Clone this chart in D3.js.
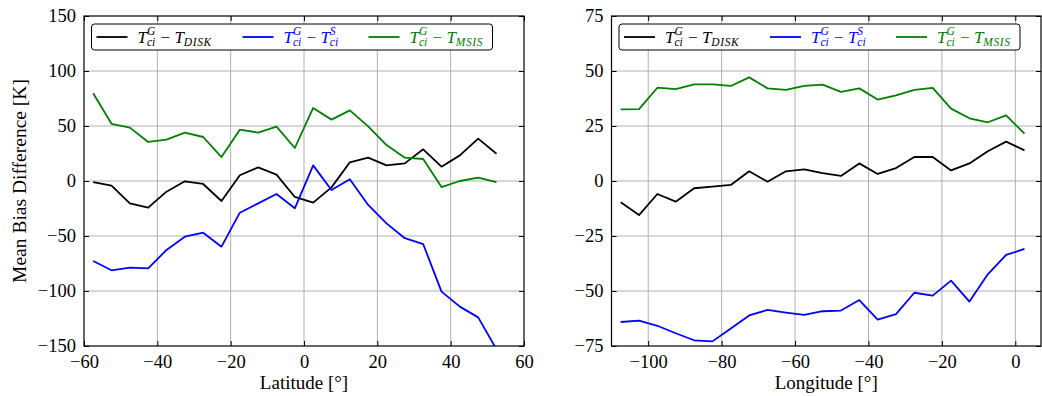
<!DOCTYPE html>
<html><head><meta charset="utf-8">
<script src="https://cdn.jsdelivr.net/npm/d3@7"></script>
<style>body{margin:0;background:#fff}svg{display:block}text{font-family:"Liberation Serif","DejaVu Serif",serif}</style>
</head><body>
<svg id="c" width="1042" height="396"></svg>
<script>
// ---------- data ----------
const latitude = [-57.5,-52.5,-47.5,-42.5,-37.5,-32.5,-27.5,-22.5,-17.5,-12.5,-7.5,-2.5,2.5,7.5,12.5,17.5,22.5,27.5,32.5,37.5,42.5,47.5,52.5];
const latDisk = [-1,-4.2,-20.3,-24.2,-9.7,-0.3,-2.7,-18.2,5.2,12.4,5.8,-14.5,-19.7,-5.8,17,21.2,14.2,16,28.8,13,23.3,38.5,24.8];
const latSat  = [-72.7,-81.2,-78.8,-79.4,-62.7,-50.6,-47,-59.7,-28.8,-20.3,-11.8,-24.8,14.2,-8.2,1.6,-21.8,-38.5,-52,-57.3,-100.6,-114.2,-124,-153];
const latMsis = [79.7,52,48.5,35.5,37.6,44,40,21.8,46.7,44,49.4,30,66.4,55.8,64.2,49.7,32.7,21.2,20,-5.5,0,3,-1];

const longitude = [-107.5,-102.5,-97.5,-92.5,-87.5,-82.5,-77.5,-72.5,-67.5,-62.5,-57.5,-52.5,-47.5,-42.5,-37.5,-32.5,-27.5,-22.5,-17.5,-12.5,-7.5,-2.5,2.5];
const lonDisk = [-9.7,-15.5,-5.9,-9.4,-3.3,-2.6,-1.8,4.4,-0.3,4.4,5.3,3.6,2.3,8,3.2,5.9,10.9,10.9,4.8,8,13.5,17.9,13.9];
const lonSat  = [-64.1,-63.5,-65.8,-69.2,-72.4,-72.9,-67,-61.1,-58.6,-59.8,-60.9,-59.2,-58.9,-54.1,-63,-60.5,-50.8,-52.1,-45.3,-54.8,-42.4,-33.6,-30.9];
const lonMsis = [32.6,32.7,42.4,41.8,43.9,43.9,43.2,47.1,42.1,41.4,43.2,43.8,40.5,42.1,37,38.9,41.4,42.3,32.9,28.5,26.7,29.8,21.5];

const latXTicks = [-60,-40,-20,0,20,40,60];
const latYTicks = [-150,-100,-50,0,50,100,150];
const lonXTicks = [-100,-80,-60,-40,-20,0];
const lonYTicks = [-75,-50,-25,0,25,50,75];

const seriesColors = ["#000000","#0000ff","#008000"];

// ---------- drawing ----------
const svg = d3.select("#c");
const fmt = v => (v < 0 ? "\u2212" + Math.abs(v) : String(v));

function panel(id, box, xDom, yDom, xTicks, yTicks, xs, ys, xLabel, yLabel) {
  const x = d3.scaleLinear().domain(xDom).range([box.x0, box.x1]);
  const y = d3.scaleLinear().domain(yDom).range([box.y1, box.y0]);
  const g = svg.append("g");
  g.append("clipPath").attr("id", "clip" + id).append("rect")
    .attr("x", box.x0).attr("y", box.y0).attr("width", box.x1 - box.x0).attr("height", box.y1 - box.y0);
  // grid
  g.append("g").selectAll("line").data(xTicks.filter(t => t > xDom[0] && t < xDom[1])).join("line")
    .attr("x1", d => x(d)).attr("x2", d => x(d)).attr("y1", box.y0).attr("y2", box.y1)
    .attr("stroke", "#b0b0b0").attr("stroke-width", 1);
  g.append("g").selectAll("line").data(yTicks.filter(t => t > yDom[0] && t < yDom[1])).join("line")
    .attr("y1", d => y(d)).attr("y2", d => y(d)).attr("x1", box.x0).attr("x2", box.x1)
    .attr("stroke", "#b0b0b0").attr("stroke-width", 1);
  // lines
  const line = d3.line().x((d, i) => x(xs[i])).y(d => y(d));
  ys.forEach((arr, k) => {
    g.append("path").datum(arr).attr("d", line).attr("fill", "none")
      .attr("stroke", seriesColors[k]).attr("stroke-width", 1.8)
      .attr("stroke-linejoin", "round").attr("clip-path", `url(#clip${id})`);
  });
  // axes (inward ticks, all four sides)
  const tl = 5;
  const bottom = d3.axisBottom(x).tickValues(xTicks).tickSizeInner(-tl).tickSizeOuter(0).tickPadding(9).tickFormat(fmt);
  const left = d3.axisLeft(y).tickValues(yTicks).tickSizeInner(-tl).tickSizeOuter(0).tickPadding(8).tickFormat(fmt);
  const top = d3.axisTop(x).tickValues(xTicks).tickSizeInner(-tl).tickSizeOuter(0).tickFormat("");
  const right = d3.axisRight(y).tickValues(yTicks).tickSizeInner(-tl).tickSizeOuter(0).tickFormat("");
  const styleAx = a => {
    a.selectAll("path").remove();
    a.selectAll("line").attr("stroke", "#000").attr("stroke-width", 1);
    a.selectAll("text").attr("font-size", 18.5).attr("fill", "#000")
      .attr("font-family", '"Liberation Serif","DejaVu Serif",serif');
  };
  g.append("g").attr("transform", `translate(0,${box.y1})`).call(bottom).call(styleAx);
  g.append("g").attr("transform", `translate(${box.x0},0)`).call(left).call(styleAx);
  g.append("g").attr("transform", `translate(0,${box.y0})`).call(top).call(styleAx);
  g.append("g").attr("transform", `translate(${box.x1},0)`).call(right).call(styleAx);
  g.append("rect").attr("x", box.x0).attr("y", box.y0).attr("width", box.x1 - box.x0).attr("height", box.y1 - box.y0)
    .attr("fill", "none").attr("stroke", "#000").attr("stroke-width", 1.2);
  // labels
  g.append("text").attr("x", (box.x0 + box.x1) / 2).attr("y", 389).attr("text-anchor", "middle")
    .attr("font-size", 19).text(xLabel);
  if (yLabel) {
    g.append("text").attr("transform", `translate(26,${(box.y0 + box.y1) / 2}) rotate(-90)`)
      .attr("text-anchor", "middle").attr("font-size", 19.5).text(yLabel);
  }
  // legend
  const lx = box.x0 + 7.5, ly = 24;
  g.append("rect").attr("x", lx).attr("y", ly).attr("width", 401).attr("height", 26).attr("rx", 3)
    .attr("fill", "#fff").attr("stroke", "#000").attr("stroke-width", 1);
  const labels = [
    [{t:"T",it:1},{sup:"G",sub:"ci"},{t:" \u2212 "},{t:"T",it:1},{sub:"DISK"}],
    [{t:"T",it:1},{sup:"G",sub:"ci"},{t:" \u2212 "},{t:"T",it:1},{sup:"S",sub:"ci"}],
    [{t:"T",it:1},{sup:"G",sub:"ci"},{t:" \u2212 "},{t:"T",it:1},{sub:"MSIS"}]
  ];
  const offs = [0, 146, 272];
  labels.forEach((parts, k) => {
    const bx = lx + 5 + offs[k];
    g.append("line").attr("x1", bx).attr("x2", bx + 31).attr("y1", ly + 13).attr("y2", ly + 13)
      .attr("stroke", seriesColors[k]).attr("stroke-width", 1.8);
    let cx = bx + 41;
    const by = ly + 18.5;
    parts.forEach(p => {
      if (p.t !== undefined) {
        const t = g.append("text").attr("x", cx).attr("y", by).attr("font-size", 17)
          .attr("fill", seriesColors[k]).attr("font-style", p.it ? "italic" : "normal")
          .attr("xml:space", "preserve").text(p.t);
        cx += t.node().getComputedTextLength();
      } else {
        let w = 0;
        if (p.sup) {
          const s = g.append("text").attr("x", cx).attr("y", by - 7.5).attr("font-size", 11.5)
            .attr("fill", seriesColors[k]).attr("font-style", "italic").text(p.sup);
          w = Math.max(w, s.node().getComputedTextLength());
        }
        if (p.sub) {
          const s = g.append("text").attr("x", cx).attr("y", by + 3.5).attr("font-size", 11.5)
            .attr("fill", seriesColors[k]).attr("font-style", "italic")
            .attr("letter-spacing", p.sub.length > 2 ? 0.6 : 0).text(p.sub);
          w = Math.max(w, s.node().getComputedTextLength());
        }
        cx += w + 1;
      }
    });
  });
}

panel("L", {x0: 84, x1: 524, y0: 16, y1: 346}, [-60, 60], [-150, 150], latXTicks, latYTicks,
  latitude, [latDisk, latSat, latMsis], "Latitude [\u00b0]", "Mean Bias Difference [K]");
panel("R", {x0: 611.5, x1: 1041, y0: 16, y1: 346}, [-110, 7], [-75, 75], lonXTicks, lonYTicks,
  longitude, [lonDisk, lonSat, lonMsis], "Longitude [\u00b0]", null);
</script>
</body></html>
